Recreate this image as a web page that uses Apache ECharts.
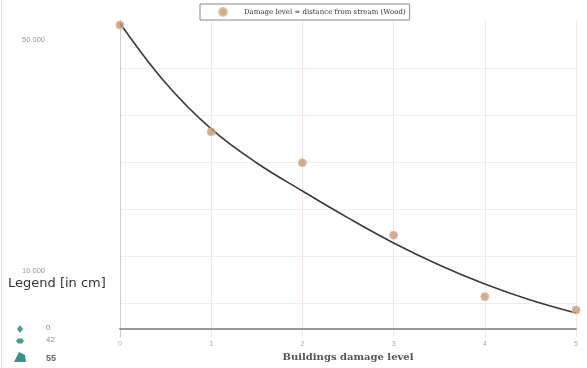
<!DOCTYPE html>
<html>
<head>
<meta charset="utf-8">
<script src="https://cdn.jsdelivr.net/npm/echarts@6/dist/echarts.min.js"></script>
<style>
  html, body { margin: 0; padding: 0; background: #fff; }
  #chart { width: 587px; height: 368px; }
</style>
</head>
<body>
<div id="chart"></div>
<script>
// damage level on x, distance on y
var levels = [0, 1, 2, 3, 4, 5];
var distances = [52600, 34100, 28750, 16200, 5550, 3250];
// trend curve at half steps
var trendX = [0, 0.5, 1, 1.5, 2, 2.5, 3, 3.5, 4, 4.5, 5];
var trendY = [52900, 42550, 34600, 28700, 23850, 19200, 14850, 11050, 7750, 4980, 2730];
var yLabels = [10000, 50000];

var chart = echarts.init(document.getElementById("chart"));

chart.setOption({
  backgroundColor: "#fff",
  animation: false,
  legend: {
    data: ["Damage level = distance from stream (Wood)"],
    left: 200,
    top: 4,
    padding: [3, 4, 3, 18],
    itemWidth: 8,
    itemHeight: 8,
    borderColor: "#888",
    borderWidth: 1,
    backgroundColor: "#fff",
    textStyle: { fontSize: 7, color: "#333", fontFamily: "DejaVu Serif", padding: [0, 0, 0, 12] }
  },
  grid: [
    { left: 120, right: 11, top: 20, bottom: 31 },
    // second grid just carries the horizontal guide lines
    { left: 120, right: 11, top: 68, bottom: 65 }
  ],
  xAxis: [
    {
      type: "value",
      min: 0,
      max: 5,
      interval: 1,
      name: "Buildings damage level",
      nameLocation: "middle",
      nameGap: 15,
      nameTextStyle: { fontSize: 10, color: "#555", fontFamily: "DejaVu Serif", fontWeight: "bold" },
      axisLine: { lineStyle: { color: "#999", width: 2 } },
      axisTick: { show: false },
      axisLabel: { fontSize: 7, color: "#aaa", margin: 4 },
      splitLine: { lineStyle: { color: "#f3e8e4" } }
    },
    { gridIndex: 1, type: "value", min: 0, max: 5, show: false }
  ],
  yAxis: [
    {
      type: "value",
      min: -1430,
      max: 53460,
      axisLine: { show: true, lineStyle: { color: "#ccc" } },
      axisTick: { show: false },
      splitLine: { show: false },
      axisLabel: {
        customValues: yLabels,
        fontSize: 7.5,
        color: "#999",
        margin: 75,
        formatter: function (v) {
          return String(v).replace(/(\d)(?=(\d{3})+$)/, "$1 ");
        }
      }
    },
    {
      gridIndex: 1,
      type: "value",
      min: 0,
      max: 5,
      interval: 1,
      axisLine: { show: false },
      axisTick: { show: false },
      axisLabel: { show: false },
      splitLine: { lineStyle: { color: "#eee" } }
    }
  ],
  series: [
    {
      name: "trend",
      type: "line",
      smooth: 0.4,
      clip: false,
      symbol: "none",
      data: trendX.map(function (x, i) { return [x, trendY[i]]; }),
      lineStyle: { color: "#3a3a3a", width: 1.6 },
      z: 3
    },
    {
      name: "Damage level = distance from stream (Wood)",
      type: "scatter",
      clip: false,
      symbolSize: 8,
      data: levels.map(function (x, i) { return [x, distances[i]]; }),
      itemStyle: { color: "#bf9a80", borderColor: "#e8b890", borderWidth: 1 },
      z: 4
    }
  ],
  graphic: [
    { type: "line", shape: { x1: 1.5, y1: 0, x2: 1.5, y2: 368 }, style: { stroke: "#ddd", lineWidth: 1 } },
    { type: "text", x: 8, y: 277, style: { text: "Legend [in cm]", fontSize: 13, fill: "#333", fontFamily: "DejaVu Sans" } },
    { type: "polygon", shape: { points: [[20, 325], [23, 329], [20, 333], [17, 329]] }, style: { fill: "#4a9a96" } },
    { type: "text", x: 46, y: 324, style: { text: "0", fontSize: 8, fill: "#888" } },
    { type: "polygon", shape: { points: [[16, 341], [18, 338.5], [22, 338.5], [24, 341], [22, 343.5], [18, 343.5]] }, style: { fill: "#4a9a96" } },
    { type: "text", x: 46, y: 336, style: { text: "42", fontSize: 8, fill: "#888" } },
    { type: "polygon", shape: { points: [[14, 362], [19, 352], [25, 355], [26, 362]] }, style: { fill: "#3f8f8a" } },
    { type: "text", x: 46, y: 354, style: { text: "55", fontSize: 9, fill: "#666", fontWeight: "bold" } }
  ]
});
</script>
</body>
</html>
